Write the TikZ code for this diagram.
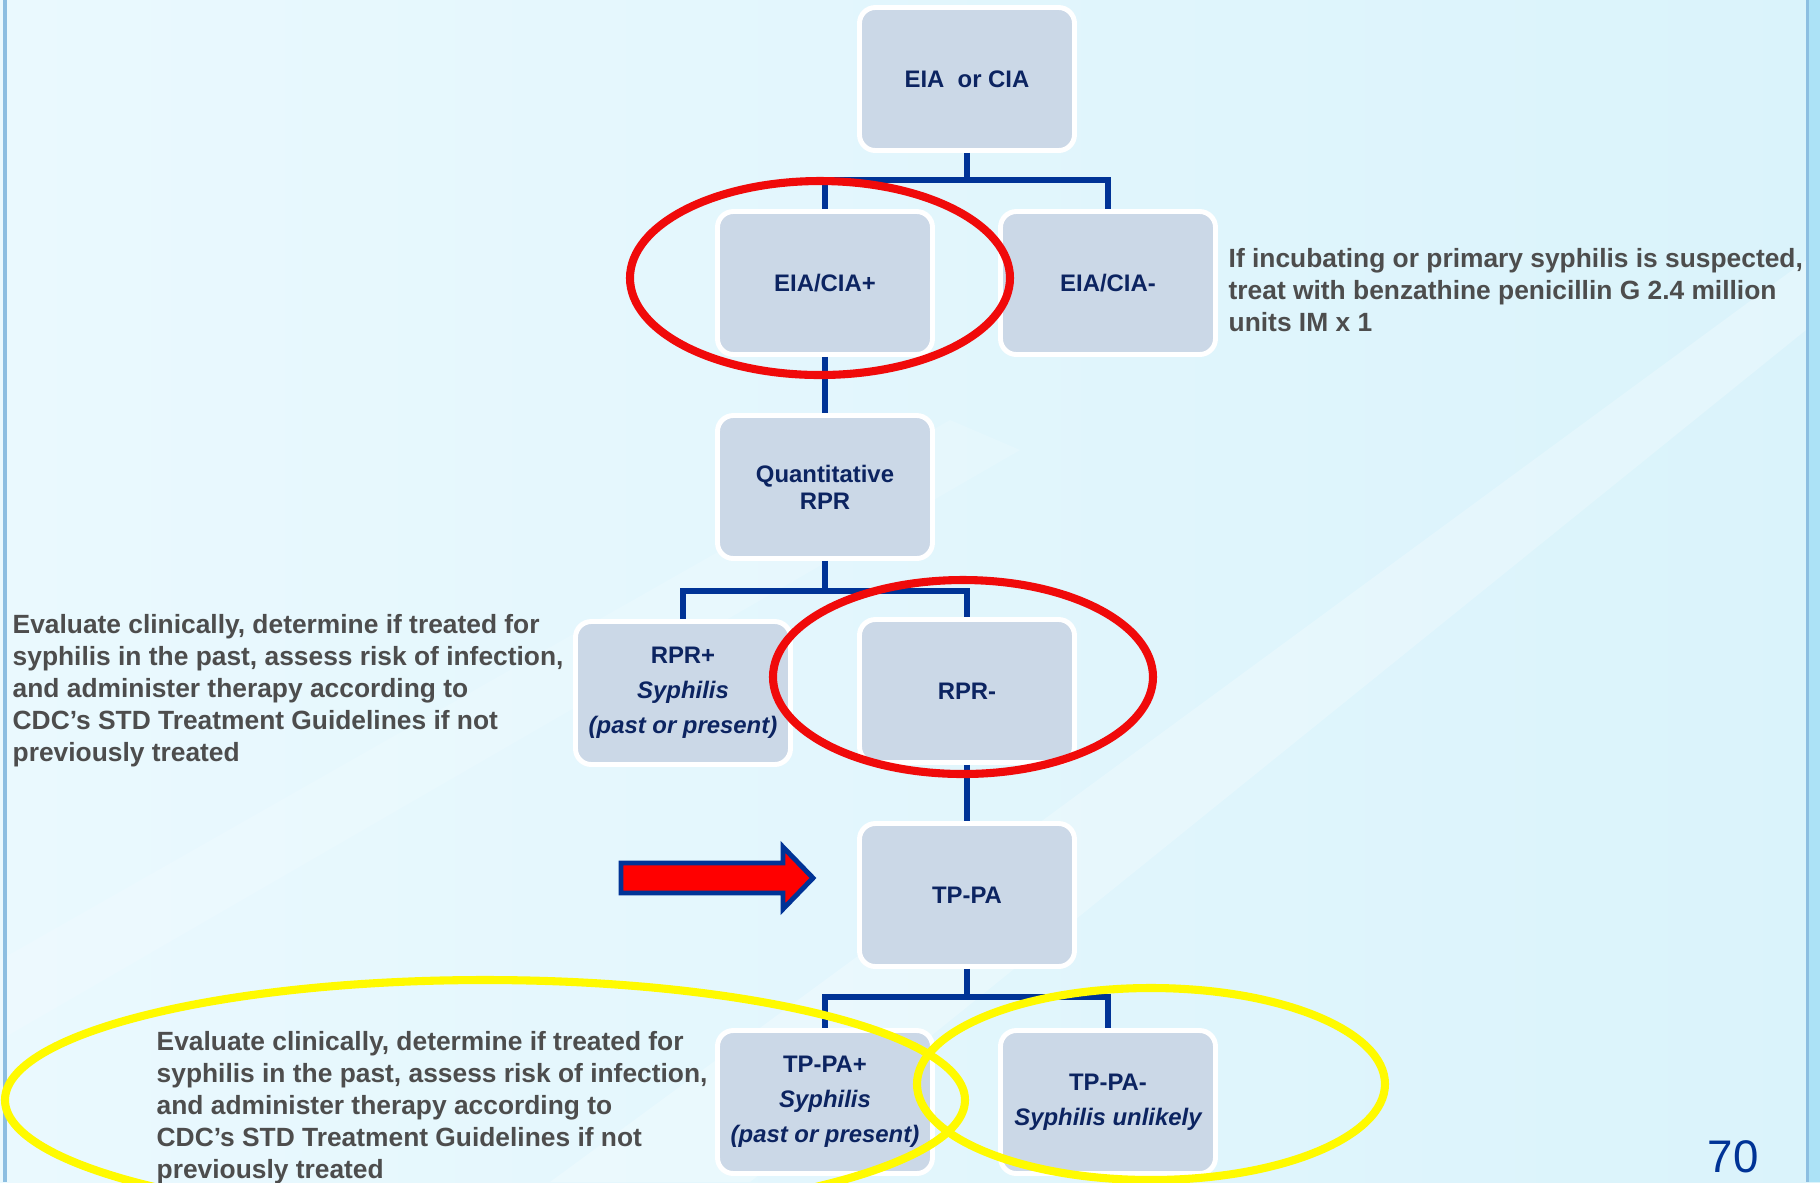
\documentclass[tikz,border=0pt]{standalone}
\usepackage{fontspec}
\setmainfont{Liberation Sans}
\usetikzlibrary{positioning,calc}

\definecolor{bgcyan}{RGB}{218,243,251}
\definecolor{bglight}{RGB}{234,249,254}
\definecolor{boxfill}{RGB}{203,216,231}
\definecolor{navytext}{RGB}{12,36,97}
\definecolor{linkblue}{RGB}{0,51,150}
\definecolor{notegray}{RGB}{77,77,77}
\definecolor{ringred}{RGB}{240,10,10}
\definecolor{ringyellow}{RGB}{255,250,0}
\definecolor{edgeblue}{RGB}{140,190,225}
\definecolor{bandblue}{RGB}{172,226,246}

\begin{document}
\begin{tikzpicture}[x=1cm, y=-1cm,
  test/.style={draw=white, line width=1.4pt, fill=boxfill, rounded corners=4.5pt,
    minimum width=2.15cm, minimum height=1.43cm, inner sep=2pt, align=center,
    text=navytext, font=\fontsize{6.8}{7.6}\selectfont\bfseries},
  link/.style={draw=linkblue, line width=1.7pt},
  note/.style={anchor=north west, inner sep=0pt, align=left, text=notegray,
    font=\fontsize{7.5}{9.1}\selectfont\bfseries},
  ring/.style={line width=2.3pt},
]
\useasboundingbox (0,0) rectangle (18.2,11.82);
\clip (0,0) rectangle (18.2,11.82);
% --- slide background ---
\shade[left color=bglight, right color=bgcyan] (0,0) rectangle (18.2,11.82);
\fill[white, opacity=0.25] (5.5,11.82) -- (18.06,2.6) -- (18.06,3.3) -- (7.5,11.82) -- cycle;
\fill[white, opacity=0.15] (0,9.6) -- (9.5,4.2) -- (10.2,4.5) -- (0,10.4) -- cycle;
\fill[edgeblue] (0.03,0) rectangle (0.07,11.82);
\fill[bandblue] (18.06,0) rectangle (18.2,11.82);
\fill[edgeblue] (18.06,0) rectangle (18.09,11.82);
% --- tests ---
\node[test] (eia) at (9.67,0.79) {EIA\ \ or CIA};
\node[test] (pos) at (8.25,2.83) {EIA/CIA+};
\node[test] (neg) at (11.08,2.83) {EIA/CIA-};
\node[test] (rpr) at (8.25,4.87) {Quantitative\\RPR};
\node[test] (rprpos) at (6.83,6.93) {RPR+\\[2.4pt]\itshape Syphilis\\[2.4pt]\itshape (past or present)};
\node[test] (rprneg) at (9.67,6.91) {RPR-};
\node[test] (tppa) at (9.67,8.95) {TP-PA};
\node[test] (tppos) at (8.25,11.02) {TP-PA+\\[2.4pt]\itshape Syphilis\\[2.4pt]\itshape (past or present)};
\node[test] (tpneg) at (11.08,11.02) {TP-PA-\\[2.4pt]\itshape Syphilis unlikely};
% --- connectors ---
\draw[link] (eia.south) -- ++(0,0.27) coordinate (bus1) -| (pos.north);
\draw[link] (bus1) -| (neg.north);
\draw[link] (pos) -- (rpr);
\draw[link] (rpr.south) -- ++(0,0.30) coordinate (bus2) -| (rprpos.north);
\draw[link] (bus2) -| (rprneg.north);
\draw[link] (rprneg) -- (tppa);
\draw[link] (tppa.south) -- ++(0,0.28) coordinate (bus3) -| (tppos.north);
\draw[link] (bus3) -| (tpneg.north);
% --- notes ---
\node[note] (treat) at (12.28,2.48) {If incubating or primary syphilis is suspected,\\treat with benzathine penicillin G 2.4 million\\units IM x 1};
\node[note] (eval1) at (0.12,6.14) {Evaluate clinically, determine if treated for\\syphilis in the past, assess risk of infection,\\and administer therapy according to\\CDC’s STD Treatment Guidelines if not\\previously treated};
\node[note] (eval2) at (1.56,10.31) {Evaluate clinically, determine if treated for\\syphilis in the past, assess risk of infection,\\and administer therapy according to\\CDC’s STD Treatment Guidelines if not\\previously treated};
% --- highlights ---
\draw[ring, ringred] (8.20,2.78) ellipse [x radius=1.90, y radius=0.97];
\draw[ring, ringred] (9.63,6.77) ellipse [x radius=1.90, y radius=0.97];
\draw[ring, ringyellow] (4.85,11.00) ellipse [x radius=4.80, y radius=1.20];
\draw[ring, ringyellow] (11.51,10.84) ellipse [x radius=2.34, y radius=0.96];
\draw[linkblue, fill=red, line width=1.4pt, line join=miter]
  (6.21,8.63) -- (7.83,8.63) -- (7.83,8.47) -- (8.13,8.78) -- (7.83,9.09) -- (7.83,8.93) -- (6.21,8.93) -- cycle;
% --- page number ---
\node[anchor=base west, inner sep=0pt, text=linkblue, font=\fontsize{13}{13}\selectfont] (page) at (17.07,11.72) {70};
\end{tikzpicture}
\end{document}
